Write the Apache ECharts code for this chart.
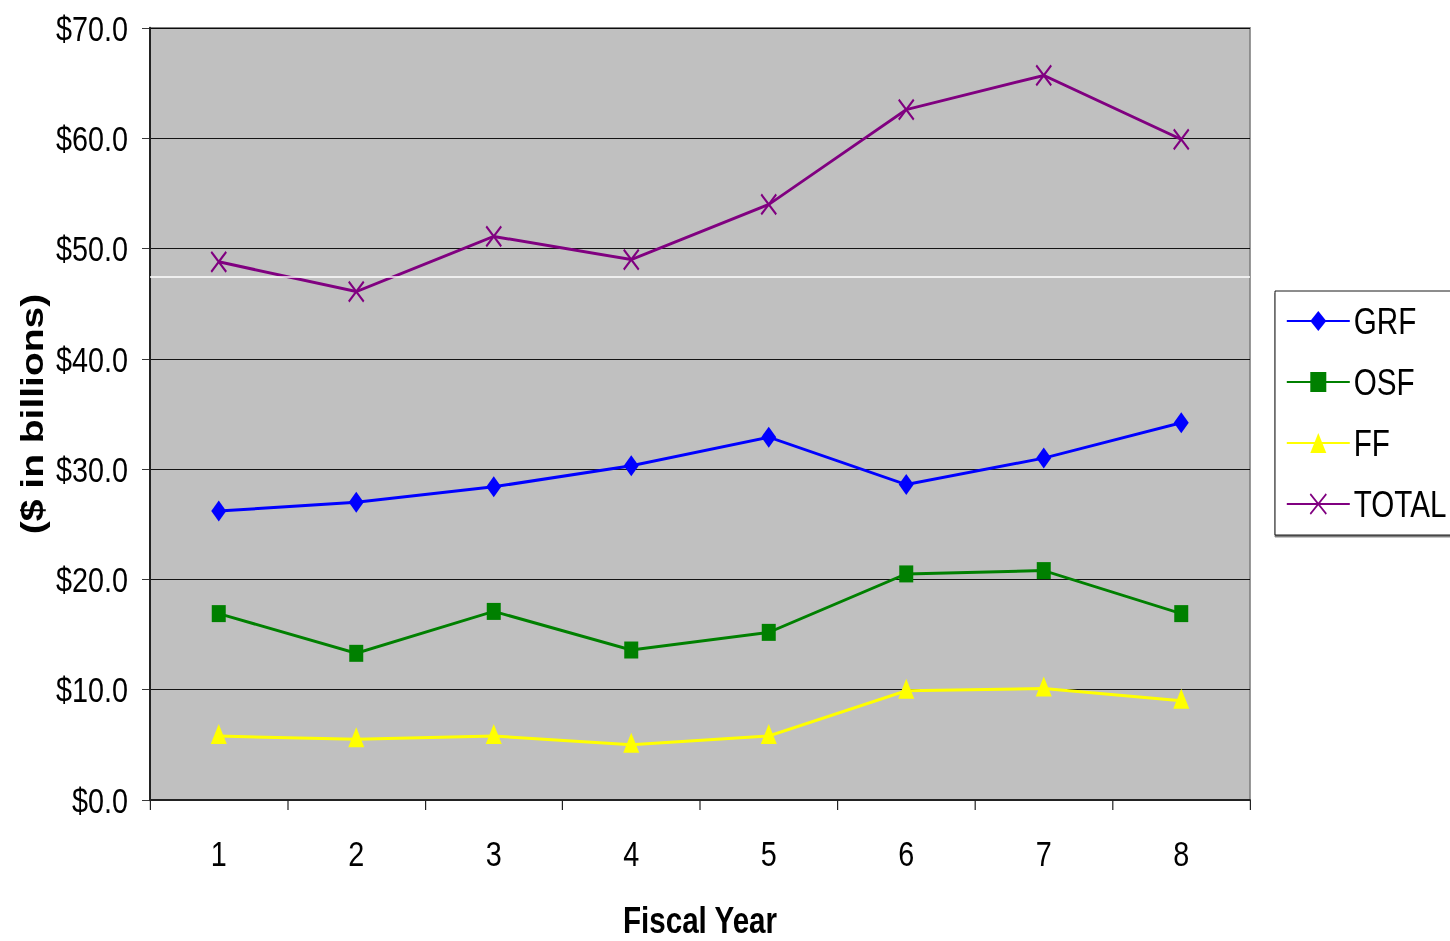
<!DOCTYPE html>
<html>
<head>
<meta charset="utf-8">
<title>Fund totals by fiscal year</title>
<script src="https://cdn.jsdelivr.net/npm/echarts@6/dist/echarts.min.js"></script>
<style>
  html, body { margin: 0; padding: 0; background: #ffffff; overflow: hidden; }
  #frame { width: 1450px; height: 941px; overflow: hidden; position: relative; }
  #chart { position: absolute; left: 0; top: 0; height: 941px; transform-origin: 0 0; }
</style>
</head>
<body>
<div id="frame"><div id="chart"></div></div>
<script>
// Fiscal years on the category axis
const fiscalYears = ['1', '2', '3', '4', '5', '6', '7', '8'];

// Fund amounts, $ in billions
const grf   = [26.2, 27.0, 28.4, 30.3, 32.9, 28.6, 31.0, 34.2];
const osf   = [16.9, 13.3, 17.1, 13.6, 15.2, 20.5, 20.8, 16.9];
const ff    = [5.8, 5.5, 5.8, 5.0, 5.8, 9.9, 10.1, 9.0];
const total = [48.8, 46.1, 51.1, 49.0, 54.0, 62.6, 65.7, 59.9];

// Value axis range and step
const yMin = 0;
const yMax = 70;
const yStep = 10;

// Level of the thin white rule across the plot
const whiteRule = 47.4;

// The chart is laid out wider and squeezed horizontally, giving the tall,
// narrow lettering and markers of the original export.
const squeeze = 0.8;
const pageW = 1450;
const chartW = pageW / squeeze;
const hx = (x) => x / squeeze;   // page x-distance -> chart x-distance

const el = document.getElementById('chart');
el.style.width = chartW + 'px';
el.style.transform = 'scaleX(' + squeeze + ')';

const sans = '"Liberation Sans", Arial, Helvetica, sans-serif';
const crossPath = 'path://M0,0L16,16M16,0L0,16';

const chart = echarts.init(el, null, { renderer: 'svg', width: chartW, height: 941 });

function lineSeries(name, data, color, symbol, size, extra) {
  return Object.assign({
    name: name,
    type: 'line',
    data: data,
    symbol: symbol,
    symbolSize: size,
    symbolKeepAspect: false,
    showSymbol: true,
    lineStyle: { color: color, width: 3 },
    itemStyle: { color: color },
    emphasis: { disabled: true },
    animation: false
  }, extra || {});
}

chart.setOption({
  backgroundColor: '#ffffff',
  animation: false,
  grid: {
    left: hx(150),
    right: chartW - hx(1250),
    top: 28,
    bottom: 141,
    containLabel: false,
    outerBoundsMode: 'none',
    show: true,
    backgroundColor: '#c0c0c0',
    borderColor: '#808080',
    borderWidth: 2
  },
  legend: {
    orient: 'vertical',
    left: hx(1275),
    top: 291,
    padding: [10, 40, 11, hx(11)],
    backgroundColor: '#ffffff',
    borderColor: '#000000',
    borderWidth: 1,
    shadowColor: 'rgba(0,0,0,0.5)',
    shadowOffsetY: 2,
    itemWidth: hx(63),
    itemHeight: 25,
    itemGap: 21,
    textStyle: {
      fontFamily: sans,
      fontSize: 37,
      color: '#000000',
      lineHeight: 40
    },
    data: ['GRF', 'OSF', 'FF', 'TOTAL']
  },
  xAxis: {
    type: 'category',
    data: fiscalYears,
    boundaryGap: true,
    name: 'Fiscal Year',
    nameLocation: 'middle',
    nameGap: 102,
    nameTextStyle: {
      fontFamily: sans,
      fontWeight: 'bold',
      fontSize: 37,
      color: '#000000'
    },
    axisLine: { show: true, lineStyle: { color: '#222222', width: 2 } },
    axisTick: { show: true, alignWithLabel: false, length: 10, lineStyle: { color: '#222222', width: 1.5 } },
    axisLabel: {
      fontFamily: sans,
      fontSize: 36,
      color: '#000000',
      margin: 35
    },
    splitLine: { show: false }
  },
  yAxis: {
    type: 'value',
    min: yMin,
    max: yMax,
    interval: yStep,
    name: '($ in billions)',
    nameLocation: 'middle',
    nameGap: 121,
    nameRotate: 90,
    nameTextStyle: {
      fontFamily: sans,
      fontWeight: 'bold',
      fontSize: 39,
      color: '#000000'
    },
    axisLine: { show: true, lineStyle: { color: '#222222', width: 2.5 } },
    axisTick: { show: true, inside: false, length: hx(8), lineStyle: { color: '#222222', width: 1 } },
    axisLabel: {
      fontFamily: sans,
      fontSize: 36,
      color: '#000000',
      margin: hx(22),
      formatter: function (v) { return '$' + v.toFixed(1); }
    },
    splitLine: { show: true, lineStyle: { color: '#000000', width: 1 } }
  },
  series: [
    lineSeries('GRF', grf, '#0000ff', 'diamond', [hx(15), 21]),
    lineSeries('OSF', osf, '#008000', 'rect', [hx(14), 17]),
    lineSeries('FF', ff, '#ffff00', 'triangle', [hx(16), 20], { symbolOffset: [0, -2] }),
    lineSeries('TOTAL', total, '#800080', crossPath, [hx(15), 20], {
      itemStyle: { color: 'none', borderColor: '#800080', borderWidth: 2.5 },
      markLine: {
        silent: true,
        symbol: 'none',
        label: { show: false },
        lineStyle: { color: '#ffffff', width: 1.5, type: 'solid' },
        emphasis: { disabled: true },
        data: [{ yAxis: whiteRule }]
      }
    })
  ]
});
</script>
</body>
</html>
